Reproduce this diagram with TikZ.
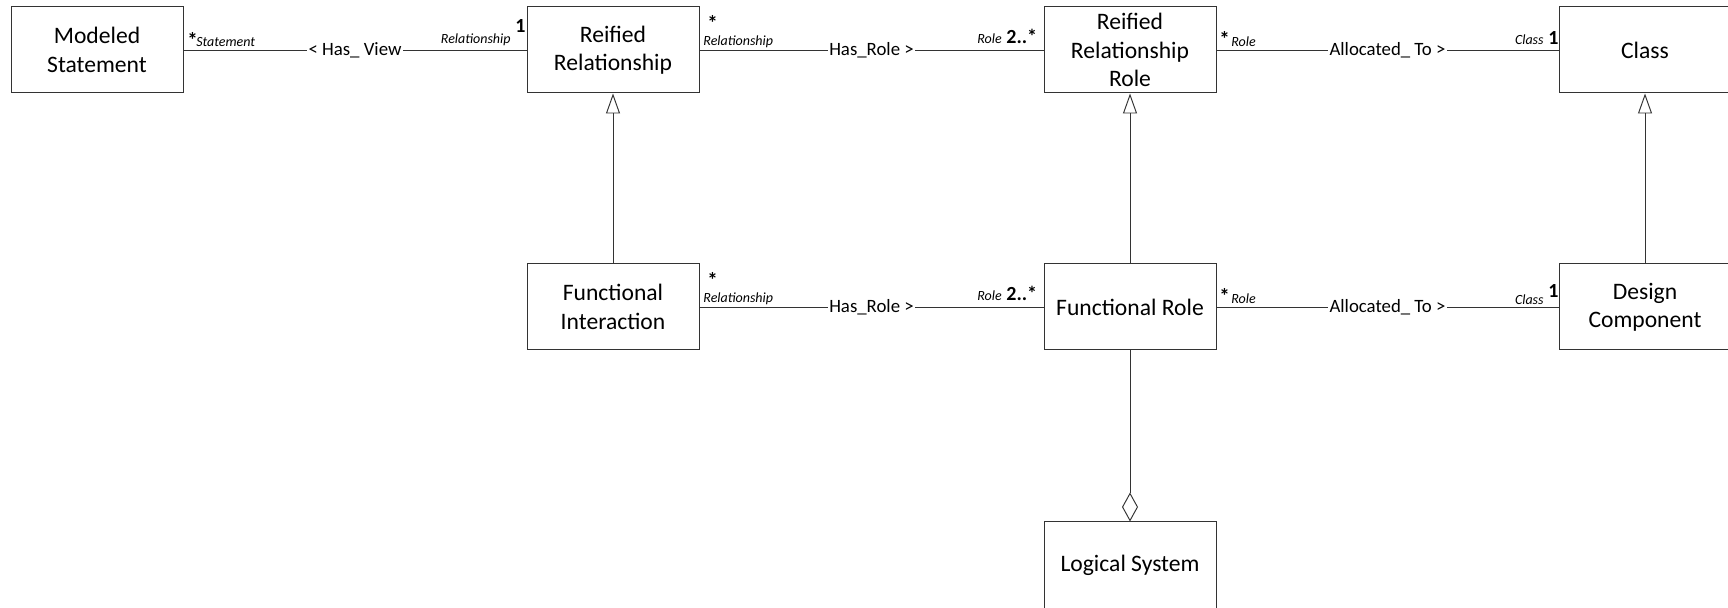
\documentclass[tikz,border=0pt]{standalone}
\usepackage{fontspec}
\setmainfont{Carlito}
\usetikzlibrary{arrows.meta}
\begin{document}
\begin{tikzpicture}[x=0.5pt,y=-0.5pt,
  umlclass/.style={draw=black!80, line width=0.5pt, fill=white, minimum width=86pt, minimum height=43pt, align=center, inner sep=0pt, font=\fontsize{11.8}{14.2}\selectfont},
  conn/.style={draw=black!80, line width=0.48pt},
  assoc/.style={fill=white, inner sep=0.6pt, font=\fontsize{9.4}{11}\selectfont},
  rname/.style={inner sep=0pt, font=\fontsize{7}{8}\selectfont\itshape},
  mult/.style={inner sep=0pt, font=\fontsize{10}{11}\selectfont\bfseries},
  multstar/.style={inner sep=0pt, font=\fontsize{10.5}{11}\selectfont\bfseries},
  gen/.style={conn, -{Triangle[open, length=10pt, width=7pt]}},
  agg/.style={conn, -{Diamond[open, length=14.5pt, width=8pt]}}
]
\useasboundingbox (0,0) rectangle (1728,608);

% classes
\node[umlclass] (ms)  at (97,50)    {Modeled\\Statement};
\node[umlclass] (rr)  at (613,50)   {Reified\\Relationship};
\node[umlclass] (rrr) at (1130,50)  {Reified\\Relationship\\Role};
\node[umlclass] (cl)  at (1645,50)  {Class};
\node[umlclass] (fi)  at (613,307)  {Functional\\Interaction};
\node[umlclass] (fr)  at (1130,307) {Functional Role};
\node[umlclass] (dc)  at (1645,307) {Design\\Component};
\node[umlclass] (ls)  at (1130,565) {Logical System};

% associations
\draw[conn] (ms.east) -- node[assoc] (a1) {< Has\_ View} (rr.west);
\draw[conn] (rr.east) -- node[assoc] (a2) {Has\_Role >} (rrr.west);
\draw[conn] (rrr.east) -- node[assoc] (a3) {Allocated\_ To >} (cl.west);
\draw[conn] (fi.east) -- node[assoc] (a4) {Has\_Role >} (fr.west);
\draw[conn] (fr.east) -- node[assoc] (a5) {Allocated\_ To >} (dc.west);

% generalizations
\draw[gen] (fi.north) -- (rr.south);
\draw[gen] (fr.north) -- (rrr.south);
\draw[gen] (dc.north) -- (cl.south);

% aggregation
\draw[agg] (fr.south) -- (ls.north);

% row 1 ends
\node[multstar, anchor=base west] (m1) at (187,48) {*};
\node[rname, anchor=base west] (r1) at (196,47) {Statement};
\node[rname, anchor=base east] (r2) at (511,44) {Relationship};
\node[mult, anchor=base west]  (m2) at (515,33) {1};
\node[multstar, anchor=base west] (m3) at (707,31) {*};
\node[rname, anchor=base west] (r3) at (703,46) {Relationship};
\node[rname, anchor=base west] (r4) at (977,44) {Role};
\node[mult, anchor=base west]  (m4) at (1006,44) {2..*};
\node[multstar, anchor=base west] (m5) at (1219,47) {*};
\node[rname, anchor=base west] (r5) at (1231,47) {Role};
\node[rname, anchor=base east] (r6) at (1544,45) {Class};
\node[mult, anchor=base west]  (m6) at (1548,45) {1};

% row 2 ends
\node[multstar, anchor=base west] (m7) at (707,288) {*};
\node[rname, anchor=base west] (r7) at (703,303) {Relationship};
\node[rname, anchor=base west] (r8) at (977,301) {Role};
\node[mult, anchor=base west]  (m8) at (1006,301) {2..*};
\node[multstar, anchor=base west] (m9) at (1219,304) {*};
\node[rname, anchor=base west] (r9) at (1231,304) {Role};
\node[rname, anchor=base east] (r10) at (1544,305) {Class};
\node[mult, anchor=base west]  (m10) at (1548,298) {1};
\end{tikzpicture}
\end{document}
